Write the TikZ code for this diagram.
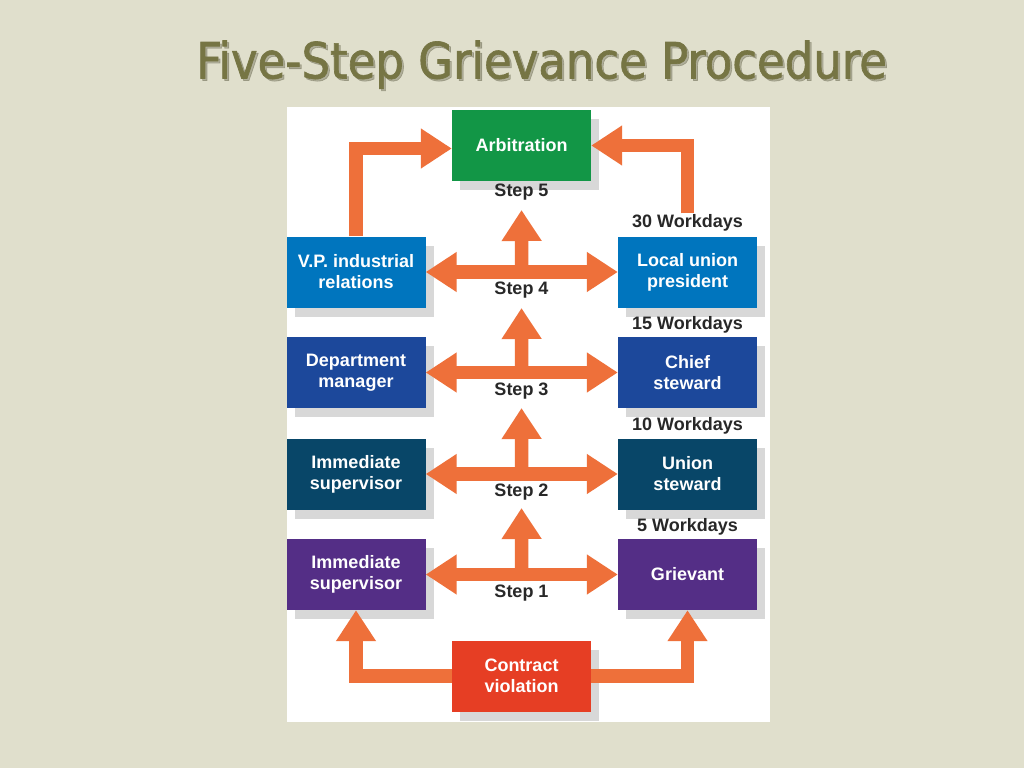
\documentclass[tikz,border=0pt]{standalone}
\usepackage{fontspec}
\setmainfont{Liberation Sans}
\newfontfamily\titlefont{DejaVu Sans Condensed}[FakeBold=1.3]
\usetikzlibrary{arrows.meta,calc}
\definecolor{bgc}{RGB}{224,223,204}
\definecolor{titlec}{RGB}{118,117,68}
\definecolor{shadowc}{RGB}{216,216,216}
\definecolor{arrowc}{RGB}{238,112,58}
\definecolor{greenc}{RGB}{18,150,70}
\definecolor{bluec}{RGB}{0,117,190}
\definecolor{navyc}{RGB}{28,72,155}
\definecolor{tealc}{RGB}{8,70,104}
\definecolor{purplec}{RGB}{84,46,134}
\definecolor{redc}{RGB}{230,62,36}
\definecolor{labelc}{RGB}{40,40,40}
\tikzset{
  box/.style={minimum width=139pt, minimum height=71pt, inner sep=0pt,
    text=white, align=center, font=\bfseries\fontsize{18}{21}\selectfont,
    preaction={fill=shadowc, transform canvas={shift={(8pt,-9pt)}}}},
  lbl/.style={text=labelc, inner sep=1pt, font=\bfseries\fontsize{18}{21}\selectfont},
  arr/.style={draw=arrowc, line width=13.5pt, line join=miter},
  tip/.style={-{Triangle[width=38pt,length=31pt]}},
  dtip/.style={{Triangle[width=38pt,length=31pt]}-{Triangle[width=38pt,length=31pt]}},
  ttl/.style={font=\titlefont\fontsize{50}{58}\selectfont, anchor=base}
}
\begin{document}
\begin{tikzpicture}[x=1pt,y=-1pt]
\fill[bgc] (0,0) rectangle (1024,768);
\useasboundingbox (0,0) rectangle (1024,768);
% title
\node[ttl, text=titlec!55!black, opacity=0.3] at (543.5,80.5) {Five-Step Grievance Procedure};
\node[ttl, text=titlec] (title) at (541.5,78.5) {Five-Step Grievance Procedure};
% panel
\fill[white] (287,107) rectangle (770,722);
% boxes
\node[box, fill=greenc]  (arb) at (521.5,145.5) {Arbitration};
\node[box, fill=bluec]   (vp)  at (356,272) {V.P. industrial\\relations};
\node[box, fill=bluec]   (lup) at (687.5,272) {Local union\\president};
\node[box, fill=navyc]   (dm)  at (356,372.5) {Department\\manager};
\node[box, fill=navyc]   (cs)  at (687.5,372.5) {Chief\\steward};
\node[box, fill=tealc]   (is2) at (356,474) {Immediate\\supervisor};
\node[box, fill=tealc]   (us)  at (687.5,474) {Union\\steward};
\node[box, fill=purplec] (is1) at (356,574.5) {Immediate\\supervisor};
\node[box, fill=purplec] (gr)  at (687.5,574.5) {Grievant};
\node[box, fill=redc]    (cv)  at (521.5,676) {Contract\\violation};
% labels
\node[lbl] (s5) at (521.5,192) {Step 5};
\node[lbl] (s4) at (521.5,290) {Step 4};
\node[lbl] (s3) at (521.5,391.5) {Step 3};
\node[lbl] (s2) at (521.5,492) {Step 2};
\node[lbl] (s1) at (521.5,593) {Step 1};
\node[lbl] (w30) at (687.5,223) {30 Workdays};
\node[lbl] (w15) at (687.5,324.5) {15 Workdays};
\node[lbl] (w10) at (687.5,425.5) {10 Workdays};
\node[lbl] (w5)  at (687.5,526.5) {5 Workdays};
% tip coordinates of the up arrows
\coordinate (t5) at (521.5,210);
\coordinate (t4) at (521.5,308);
\coordinate (t3) at (521.5,408);
\coordinate (t2) at (521.5,508);
% horizontal double arrows
\draw[arr,dtip] (vp.east) -- (lup.west);
\draw[arr,dtip] (dm.east) -- (cs.west);
\draw[arr,dtip] (is2.east) -- (us.west);
\draw[arr,dtip] (is1.east) -- (gr.west);
% up arrows
\draw[arr,tip] ($(vp.east)!0.5!(lup.west)$) -- (t5);
\draw[arr,tip] ($(dm.east)!0.5!(cs.west)$) -- (t4);
\draw[arr,tip] ($(is2.east)!0.5!(us.west)$) -- (t3);
\draw[arr,tip] ($(is1.east)!0.5!(gr.west)$) -- (t2);
% to arbitration
\draw[arr,tip] (vp.north) |- ([yshift=-3pt]arb.west);
\draw[arr,tip] (w30.north) |- (arb.east);
% from contract violation
\draw[arr,tip] (cv.west) -| (is1.south);
\draw[arr,tip] (cv.east) -| (gr.south);
\end{tikzpicture}
\end{document}
